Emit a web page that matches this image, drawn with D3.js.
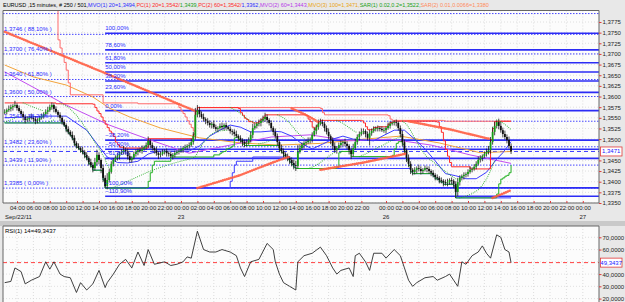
<!DOCTYPE html>
<html>
<head>
<meta charset="utf-8">
<title>EURUSD 15 minutes</title>
<script src="https://cdn.jsdelivr.net/npm/d3@7"></script>
<style>
  html, body { margin: 0; padding: 0; background: #e9e9e9; }
  svg { display: block; font-family: "Liberation Sans", Arial, sans-serif; }
</style>
</head>
<body>
<svg id="chart" width="625" height="302"></svg>
<script>
(function() {
    'use strict';

    // trading sessions shown on the time axis (weekend removed)
    var sessions = [["2011-09-22 02:30", "2011-09-23 22:45"], ["2011-09-25 22:00", "2011-09-27 01:45"]];

    // 15 minute candles: closes, plus wick lengths in pips
    var firstOpen = 1.3562;
    var closes = [
        1.3564, 1.3568, 1.3571, 1.3575, 1.3578, 1.3580, 1.3573, 1.3566, 1.3559, 1.3552,
        1.3545, 1.3547, 1.3552, 1.3550, 1.3547, 1.3543, 1.3545, 1.3550, 1.3554, 1.3559,
        1.3564, 1.3568, 1.3575, 1.3580, 1.3571, 1.3564, 1.3557, 1.3550, 1.3540, 1.3533,
        1.3524, 1.3517, 1.3510, 1.3503, 1.3491, 1.3484, 1.3479, 1.3474, 1.3470, 1.3463,
        1.3456, 1.3446, 1.3439, 1.3432, 1.3446, 1.3463, 1.3451, 1.3432, 1.3409, 1.3390,
        1.3404, 1.3423, 1.3442, 1.3451, 1.3456, 1.3460, 1.3467, 1.3470, 1.3474, 1.3472,
        1.3460, 1.3451, 1.3456, 1.3465, 1.3470, 1.3474, 1.3472, 1.3477, 1.3481, 1.3486,
        1.3496, 1.3486, 1.3479, 1.3474, 1.3467, 1.3463, 1.3465, 1.3470, 1.3472, 1.3467,
        1.3465, 1.3460, 1.3463, 1.3467, 1.3470, 1.3472, 1.3474, 1.3479, 1.3481, 1.3484,
        1.3486, 1.3493, 1.3507, 1.3557, 1.3568, 1.3559, 1.3552, 1.3547, 1.3543, 1.3538,
        1.3533, 1.3536, 1.3528, 1.3524, 1.3526, 1.3531, 1.3528, 1.3533, 1.3528, 1.3524,
        1.3519, 1.3517, 1.3512, 1.3507, 1.3503, 1.3498, 1.3493, 1.3489, 1.3491, 1.3498,
        1.3510, 1.3526, 1.3531, 1.3536, 1.3538, 1.3543, 1.3547, 1.3552, 1.3545, 1.3538,
        1.3526, 1.3517, 1.3507, 1.3493, 1.3479, 1.3472, 1.3465, 1.3460, 1.3456, 1.3451,
        1.3444, 1.3439, 1.3437, 1.3470, 1.3479, 1.3486, 1.3491, 1.3493, 1.3496, 1.3498,
        1.3510, 1.3519, 1.3528, 1.3536, 1.3540, 1.3536, 1.3526, 1.3517, 1.3507, 1.3498,
        1.3484, 1.3474, 1.3479, 1.3486, 1.3491, 1.3493, 1.3489, 1.3484, 1.3474, 1.3465,
        1.3479, 1.3493, 1.3505, 1.3512, 1.3517, 1.3519, 1.3512, 1.3503,
        1.3514, 1.3519, 1.3524, 1.3526, 1.3526, 1.3524, 1.3521, 1.3521, 1.3526, 1.3531, 1.3536, 1.3538,
        1.3540, 1.3538, 1.3526, 1.3512, 1.3493, 1.3474, 1.3456, 1.3442, 1.3428, 1.3423,
        1.3428, 1.3432, 1.3430, 1.3425, 1.3428, 1.3432, 1.3430, 1.3425, 1.3421, 1.3416,
        1.3411, 1.3409, 1.3404, 1.3402, 1.3399, 1.3397, 1.3399, 1.3404, 1.3402, 1.3395,
        1.3376, 1.3399, 1.3409, 1.3413, 1.3416, 1.3418, 1.3423, 1.3428, 1.3430, 1.3435,
        1.3442, 1.3451, 1.3456, 1.3460, 1.3465, 1.3470, 1.3474, 1.3493, 1.3517, 1.3531,
        1.3540, 1.3531, 1.3521, 1.3512, 1.3505, 1.3498, 1.3484, 1.3471
    ];
    var wickHiPips = [
        6,4,8,6,4,10,4,6,4,6, 4,6,4,8,4,6,4,4,6,4, 6,8,6,6,4,6,4,6,4,6, 4,6,4,8,6,4,6,4,8,4,
        6,4,8,6,10,12,6,4,8,6, 16,8,6,4,6,8,4,6,10,6, 6,8,4,6,6,4,6,8,4,6, 10,4,6,4,8,4,6,6,4,6,
        4,6,4,6,4,6,6,4,6,4, 6,8,10,16,12,8,6,8,4,6, 6,4,8,6,4,6,8,4,6,4, 6,4,6,8,4,6,4,6,8,6,
        8,10,6,4,8,6,8,10,6,4, 6,4,8,6,4,8,6,4,6,4, 6,8,10,16,8,6,4,6,8,6, 6,8,6,10,8,6,4,6,8,4,
        6,8,4,6,6,4,8,6,4,6, 10,8,6,6,8,6,4,6, 8,6,6,4,6,4,6,6,4,8,6,4,
        4,6,4,6,8,6,4,8,6,4, 6,4,8,6,4,6,4,6,4,6, 4,6,4,6,4,6,8,4,6,4, 6,10,6,4,6,4,6,8,4,6,
        6,8,6,4,6,8,10,12,12,10, 4,8,10,6,8,6,8,6
    ];
    var wickLoPips = [
        4,6,4,6,8,4,6,4,6,8, 8,4,6,4,6,8,6,4,4,6, 4,6,4,6,8,4,6,8,6,4, 8,6,4,6,8,6,4,6,6,8,
        6,8,6,10,6,8,10,12,10,5, 8,6,4,6,4,6,8,4,6,8, 8,6,6,4,6,8,4,6,4,6, 6,8,6,8,6,10,6,4,6,8,
        6,4,8,6,4,6,4,6,4,6, 6,4,6,8,6,8,4,6,8,6, 6,8,4,6,8,4,6,8,6,4, 6,8,6,4,8,6,10,8,6,4,
        6,8,4,6,6,8,4,6,8,6, 6,8,6,8,10,6,8,6,8,10, 8,10,12,6,4,6,8,6,4,6, 6,4,8,6,4,6,8,6,8,10,
        8,6,8,4,6,8,6,8,10,12, 6,4,6,8,4,6,8,6, 18,6,4,6,8,6,4,6,8,4,6,4,
        6,8,6,8,10,8,10,8,10,8, 6,8,6,8,6,4,8,6,8,6, 8,6,8,6,10,6,8,6,8,10, 14,10,8,6,8,6,6,4,6,4,
        6,4,6,8,4,6,6,8,6,8, 6,8,6,8,6,8,6,6
    ];

    // indicators, as [bar, value]
    var mvo1 = [[0,1.3550],[10,1.3552],[20,1.3554],[30,1.3554],[40,1.3521],[45,1.3489],[50,1.3458],[55,1.3445],
        [60,1.3444],[65,1.3448],[70,1.3465],[75,1.3472],[80,1.3472],[90,1.3472],[95,1.3484],[100,1.3507],
        [105,1.3521],[110,1.3533],[115,1.3528],[120,1.3517],[125,1.3517],[130,1.3519],[135,1.3517],[140,1.3507],
        [145,1.3489],[150,1.3477],[155,1.3488],[160,1.3500],[165,1.3507],[170,1.3500],[175,1.3498],[180,1.3496],
        [185,1.3509],[190,1.3521],[195,1.3521],[200,1.3500],[205,1.3477],[210,1.3449],[215,1.3419],[220,1.3414],
        [225,1.3407],[230,1.3407],[235,1.3422],[240,1.3453],[243,1.3468],[247,1.3494]];
    var mvo2 = [[0,1.3658],[30,1.3580],[51,1.3533],[71,1.3498],[90,1.3467],[110,1.3486],[130,1.3505],
        [149,1.3510],[168,1.3496],[188,1.3500],[208,1.3486],[227,1.3463],[247,1.3443]];
    var mvo3 = [[0,1.3674],[14,1.3646],[30,1.3627],[43,1.3599],[51,1.3573],[61,1.3552],[76,1.3526],[95,1.3503],
        [115,1.3491],[134,1.3486],[154,1.3490],[173,1.3499],[193,1.3507],[212,1.3491],[232,1.3468],[247,1.3471]];

    var pc1Hi = [[0,1.3585],[25,1.3583],[43,1.3582],[44,1.3574],[45,1.3566],[46,1.3560],[47,1.3552],[48,1.3543],
        [49,1.3535],[50,1.3527],[51,1.3519],[52,1.3514],[53,1.3506],[54,1.3493],[55,1.3487],[56,1.3481],[58,1.3479],
        [70,1.3501],[92,1.3512],[93,1.3565],[94,1.3574],[114,1.3572],[115,1.3562],[116,1.3556],[117,1.3549],
        [118,1.3546],[119,1.3541],[121,1.3538],[124,1.3542],[125,1.3546],[126,1.3551],[127,1.3557],[147,1.3555],
        [148,1.3547],[149,1.3541],[150,1.3528],[151,1.3523],[152,1.3531],[153,1.3541],[154,1.3544],[174,1.3543],
        [175,1.3538],[176,1.3529],[177,1.3522],[180,1.3527],[182,1.3529],[187,1.3535],[188,1.3539],[189,1.3540],
        [190,1.3542],[210,1.3541],[211,1.3540],[212,1.3529],[213,1.3516],[214,1.3496],[215,1.3476],[216,1.3460],
        [217,1.3445],[218,1.3435],[227,1.3430],[237,1.3499],[238,1.3525],[239,1.3541],[240,1.3542],[247,1.3542]];
    var pc1Lo = [[0,1.3538],[29,1.3531],[30,1.3520],[31,1.3514],[32,1.3508],[33,1.3500],[34,1.3487],[35,1.3481],
        [36,1.3477],[37,1.3471],[38,1.3467],[39,1.3459],[40,1.3453],[41,1.3442],[42,1.3436],[43,1.3427],[47,1.3426],
        [48,1.3404],[49,1.3385],[69,1.3386],[70,1.3401],[71,1.3421],[72,1.3439],[73,1.3448],[81,1.3458],[102,1.3463],
        [105,1.3467],[106,1.3470],[107,1.3471],[108,1.3477],[109,1.3478],[110,1.3481],[111,1.3484],[112,1.3503],
        [113,1.3505],[114,1.3499],[115,1.3495],[116,1.3488],[117,1.3485],[134,1.3474],[135,1.3469],[136,1.3461],
        [137,1.3457],[138,1.3452],[139,1.3446],[140,1.3440],[141,1.3434],[142,1.3431],[162,1.3434],[163,1.3468],
        [164,1.3471],[169,1.3459],[189,1.3462],[190,1.3477],[191,1.3490],[192,1.3494],[194,1.3488],[195,1.3470],
        [196,1.3451],[197,1.3438],[198,1.3423],[199,1.3419],[209,1.3413],[210,1.3407],[211,1.3406],[212,1.3400],
        [213,1.3399],[214,1.3394],[219,1.3390],[220,1.3362],[240,1.3371],[241,1.3395],[242,1.3406],[243,1.3409],
        [244,1.3413],[245,1.3415],[246,1.3421],[247,1.3439]];
    var pc2Hi = [[0,1.3850],[25,1.3850],[26,1.3733],[27,1.3714],[28,1.3697],[29,1.3680],[30,1.3662],[31,1.3632],
        [32,1.3604],[48,1.3585],[65,1.3583],[84,1.3582],[85,1.3574],[86,1.3566],[87,1.3560],[88,1.3552],[89,1.3543],
        [90,1.3535],[91,1.3527],[92,1.3519],[93,1.3565],[94,1.3574],[154,1.3572],[155,1.3562],[156,1.3557],
        [187,1.3555],[188,1.3547],[189,1.3544],[214,1.3543],[215,1.3542],[247,1.3542]];
    var pc2Lo = [[0,1.3538],[29,1.3531],[30,1.3520],[31,1.3514],[32,1.3508],[33,1.3500],[34,1.3487],[35,1.3481],
        [36,1.3477],[37,1.3471],[38,1.3467],[39,1.3459],[40,1.3453],[41,1.3442],[42,1.3436],[43,1.3427],[47,1.3426],
        [48,1.3404],[49,1.3385],[109,1.3386],[110,1.3401],[111,1.3421],[112,1.3439],[113,1.3448],[121,1.3458],
        [139,1.3446],[140,1.3440],[141,1.3434],[142,1.3431],[198,1.3423],[199,1.3419],[209,1.3413],[210,1.3407],
        [211,1.3406],[212,1.3400],[213,1.3399],[214,1.3394],[219,1.3390],[220,1.3362],[247,1.3362]];

    // parabolic SAR runs, one list per side of the price
    var sar1 = [
        [[0,1.3540],[3,1.3545],[6,1.3552]],
        [[9,1.3585],[14,1.3575],[19,1.3566]],
        [[21,1.3539],[24,1.3545]],
        [[27,1.3585],[31,1.3575],[35,1.3556],[39,1.3530],[43,1.3500],[46,1.3478],[49,1.3452],[50,1.3440],[51,1.3432]],
        [[52,1.3385],[56,1.3392],[60,1.3401],[65,1.3412],[70,1.3423],[75,1.3432],[80,1.3440],[85,1.3447],[90,1.3453],
         [92,1.3456],[93,1.3460],[94,1.3468],[96,1.3485],[98,1.3498],[100,1.3508],[102,1.3515],[104,1.3519],[109,1.3521]],
        [[110,1.3574],[113,1.3567],[116,1.3556],[119,1.3545],[122,1.3538],[123,1.3536]],
        [[124,1.3489],[127,1.3492],[130,1.3497],[132,1.3500]],
        [[133,1.3557],[136,1.3550],[139,1.3538],[142,1.3520],[145,1.3505],[147,1.3498]],
        [[148,1.3431],[151,1.3436],[154,1.3445],[157,1.3456],[160,1.3466],[161,1.3469]],
        [[162,1.3544],[165,1.3537],[168,1.3527],[170,1.3520],[172,1.3515]],
        [[173,1.3459],[176,1.3465],[179,1.3472],[182,1.3480],[185,1.3487],[188,1.3495],[190,1.3500],[193,1.3505]],
        [[194,1.3542],[196,1.3535],[198,1.3520],[200,1.3502],[202,1.3485],[204,1.3470],[206,1.3458],[208,1.3450],
         [210,1.3443],[212,1.3435],[214,1.3428],[216,1.3420],[218,1.3413],[220,1.3407],[221,1.3404]],
        [[222,1.3362],[225,1.3366],[228,1.3372],[231,1.3381],[233,1.3392],[235,1.3406],[237,1.3425],[239,1.3450]],
        [[240,1.3545],[243,1.3538],[245,1.3531],[247,1.3522]]
    ];
    var sar2 = [
        [[0,1.3752],[47,1.3659],[93,1.3566]],
        [[94,1.3385],[114,1.3414],[134,1.3451],[139,1.3459]],
        [[140,1.3572],[147,1.3557],[153,1.3540]],
        [[154,1.3428],[175,1.3445],[196,1.3466]],
        [[197,1.3542],[217,1.3523],[237,1.3500]],
        [[238,1.3362],[247,1.3380]]
    ];

    var rsi = [[0,33],[3,34],[5,45],[8,42],[10,32],[13,35],[17,38],[20,50],[22,44],[24,50],[27,40],[29,38],[32,37],
        [35,25],[37,33],[40,27],[43,32],[46,43],[49,29],[50,33],[53,40],[56,48],[59,52],[62,45],[65,58],[68,47],
        [70,60],[73,48],[78,50],[81,47],[84,48],[87,50],[89,54],[91,53],[94,75],[97,60],[100,58],[103,58],[106,60],
        [110,58],[113,55],[115,45],[117,38],[120,50],[124,52],[128,65],[131,60],[132,50],[134,40],[136,33],[139,30],
        [142,27],[143,50],[146,55],[150,57],[154,62],[157,55],[160,45],[162,40],[164,43],[168,45],[170,38],[171,55],
        [173,57],[176,50],[178,43],[180,57],[184,57],[186,53],[190,60],[193,55],[195,45],[197,35],[199,30],[201,33],
        [205,37],[209,38],[211,35],[215,38],[217,40],[219,35],[221,30],[223,50],[225,48],[228,55],[231,58],[233,63],
        [235,57],[237,53],[240,72],[242,70],[244,60],[246,58],[247,49.3437]];

    // fibonacci sets
    var fibLeftPrices = [1.37948, 1.3746, 1.3700, 1.3640, 1.3600, 1.3542, 1.3482, 1.3439, 1.3385];
    var fibLeftPct = ["100,00", "88,10", "76,40", "61,80", "50,00", "38,20", "23,60", "11,90", "0,00"];
    var fibRightLevels = [100, 78.6, 61.8, 50, 38.2, 23.6, 0, -38.2, -50, -61.8, -100, -110.9];
    var fibRightLow = 1.35670, fibRightHigh = 1.37485, fibRightStartBar = 49;

    var lastPrice = 1.3471, lastRsi = 49.3437;
    var priceTicks = d3.range(0, 18).map(function(k) { return 1.3350 + k * 0.0025; });
    var rsiTicks = [20, 30, 40, 50, 60, 70];

    var headerParts = ["EURUSD ,15 minutes, # 250 / 501, ", "MVO(1) 20=1,3494, ", "PC(1) 20=1,3542/", "1,3439, ",
        "PC(2) 60=1,3542/", "1,3362, ", "MVO(2) 60=1,3443, ", "MVO(3) 100=1,3471, ", "SAR(1) 0.02,0.2=1,3522, ",
        "SAR(2) 0.01,0.0066=1,3380"];
    var headerColors = ["#000", "#2a2aff", "#ff2a2a", "#16a016", "#ff2a2a", "#2a2aff", "#b73ae8", "#e8a412", "#16a016", "#ff8a5a"];

    // ---- layout ----
    var svg = d3.select("#chart");
    var plotL = 3, plotR = 599, plotT = 10.5, plotB = 203;
    var rsiT = 226, rsiB = 302;

    var parse = d3.timeParse("%Y-%m-%d %H:%M");
    var times = [];
    sessions.forEach(function(s) {
        times = times.concat(d3.timeMinute.every(15).range(parse(s[0]), d3.timeMinute.offset(parse(s[1]), 1)));
    });

    var x = d3.scaleLinear().domain([0, 290]).range([4.7, 4.7 + 290 * 2.05]);
    var y = d3.scaleLinear().domain([1.3350, 1.3775]).range([203, 22]);
    var yr = d3.scaleLinear().domain([20, 70]).range([298.6, 237.3]);

    var locale = d3.formatLocale({decimal: ",", thousands: ".", grouping: [3], currency: ["", ""]});
    var fmt4 = locale.format(".4f"), fmt2 = locale.format(".2f");

    svg.append("rect").attr("width", 625).attr("height", 302).attr("fill", "#e8e8e8");
    svg.append("rect").attr("x", plotL).attr("y", plotT).attr("width", plotR - plotL).attr("height", plotB - plotT).attr("fill", "#fcfcfc");
    svg.append("rect").attr("x", plotL).attr("y", rsiT).attr("width", plotR - plotL).attr("height", rsiB - rsiT).attr("fill", "#fcfcfc");
    svg.append("rect").attr("x", 0).attr("y", 221).attr("width", 625).attr("height", 5).attr("fill", "#c9c9c9");

    var defs = svg.append("defs");
    defs.append("clipPath").attr("id", "clipMain").append("rect")
        .attr("x", plotL).attr("y", plotT).attr("width", plotR - plotL).attr("height", plotB - plotT);
    defs.append("clipPath").attr("id", "clipRsi").append("rect")
        .attr("x", plotL).attr("y", rsiT).attr("width", plotR - plotL).attr("height", rsiB - rsiT);

    // time ticks every even hour, dropping ones that would crowd the previous
    var tickIdx = [];
    times.forEach(function(t, i) {
        if (t.getMinutes() === 0 && t.getHours() % 2 === 0 && x(i) < plotR - 4) {
            if (!tickIdx.length || x(i) - x(tickIdx[tickIdx.length - 1]) > 12) tickIdx.push(i);
        }
    });

    var main = svg.append("g").attr("clip-path", "url(#clipMain)");
    var lower = svg.append("g").attr("clip-path", "url(#clipRsi)");

    // grid
    [main, lower].forEach(function(g, k) {
        g.selectAll(".vgrid").data(tickIdx).enter().append("line")
            .attr("x1", function(i) { return x(i); }).attr("x2", function(i) { return x(i); })
            .attr("y1", k ? rsiT : plotT).attr("y2", k ? rsiB : plotB)
            .attr("stroke", "#d4d4d4").attr("stroke-width", 0.8).attr("stroke-dasharray", "1 2");
    });
    main.selectAll(".hgrid").data(priceTicks).enter().append("line")
        .attr("x1", plotL).attr("x2", plotR).attr("y1", function(p) { return y(p); }).attr("y2", function(p) { return y(p); })
        .attr("stroke", "#d8d8d8").attr("stroke-width", 0.8).attr("stroke-dasharray", "1 2");
    lower.selectAll(".hgrid").data(rsiTicks).enter().append("line")
        .attr("x1", plotL).attr("x2", plotR).attr("y1", function(v) { return yr(v); }).attr("y2", function(v) { return yr(v); })
        .attr("stroke", "#d8d8d8").attr("stroke-width", 0.8).attr("stroke-dasharray", "1 2");

    // fibonacci lines
    main.selectAll(".fibL").data(fibLeftPrices).enter().append("line")
        .attr("x1", plotL).attr("x2", plotR).attr("y1", function(p) { return y(p); }).attr("y2", function(p) { return y(p); })
        .attr("stroke", "#4646ff").attr("stroke-width", 1).attr("stroke-dasharray", "1.5 1.5");
    var fibRightPrice = function(l) { return fibRightLow + l / 100 * (fibRightHigh - fibRightLow); };
    main.selectAll(".fibR").data(fibRightLevels).enter().append("line")
        .attr("x1", x(fibRightStartBar)).attr("x2", plotR)
        .attr("y1", function(l) { return y(fibRightPrice(l)); }).attr("y2", function(l) { return y(fibRightPrice(l)); })
        .attr("stroke", "#2c2cf5").attr("stroke-width", 1.6);
    main.append("line").attr("x1", plotL).attr("x2", plotR).attr("y1", y(lastPrice)).attr("y2", y(lastPrice))
        .attr("stroke", "#3a3aff").attr("stroke-width", 1).attr("stroke-dasharray", "4 3");

    // moving averages and price channels
    var line = d3.line().x(function(d) { return x(d[0]); }).y(function(d) { return y(d[1]); });
    var step = d3.line().x(function(d) { return x(d[0]); }).y(function(d) { return y(d[1]); }).curve(d3.curveStepAfter);
    function path(g, gen, data, color, w) {
        return g.append("path").attr("d", gen(data)).attr("fill", "none").attr("stroke", color).attr("stroke-width", w);
    }
    path(main, line, mvo3, "#f2a33a", 1);
    path(main, line, mvo2, "#c24cf0", 1);
    path(main, line, mvo1, "#3c3cff", 1);
    path(main, step, pc2Hi, "#ff6a6a", 1);
    path(main, step, pc1Hi, "#ff2a2a", 1);
    path(main, step, pc2Lo, "#3c3cff", 1);
    path(main, step, pc1Lo, "#22b022", 1);

    // candles
    var bars = closes.map(function(c, i) {
        var o = i ? closes[i - 1] : firstOpen;
        return {i: i, o: o, c: c,
            h: Math.max(o, c) + wickHiPips[i] / 1e4,
            l: Math.min(o, c) - wickLoPips[i] / 1e4};
    });
    var candle = main.selectAll(".candle").data(bars).enter().append("g");
    candle.append("line")
        .attr("x1", function(d) { return x(d.i); }).attr("x2", function(d) { return x(d.i); })
        .attr("y1", function(d) { return y(d.h); }).attr("y2", function(d) { return y(d.l); })
        .attr("stroke", "#1a1a1a").attr("stroke-width", 0.8);
    candle.append("rect")
        .attr("x", function(d) { return x(d.i) - 0.9; }).attr("width", 1.8)
        .attr("y", function(d) { return y(Math.max(d.o, d.c)); })
        .attr("height", function(d) { return Math.max(0.7, Math.abs(y(d.o) - y(d.c))); })
        .attr("fill", function(d) { return d.c >= d.o ? "#14a014" : "#111"; });

    // SAR dots: zero length dashes with round caps
    sar2.forEach(function(seg) {
        path(main, line, seg, "#ff5c40", 2.6).attr("stroke-linecap", "round").attr("stroke-dasharray", "0 2.05").attr("opacity", 0.9);
    });
    sar1.forEach(function(seg) {
        path(main, line, seg, "#1eaa1e", 1).attr("stroke-linecap", "round").attr("stroke-dasharray", "0 2.05");
    });

    // fibonacci labels
    var fibText = svg.append("g").attr("font-size", 6).attr("fill", "#2a2aff");
    fibLeftPrices.forEach(function(p, k) {
        if (y(p) < 20) return;
        fibText.append("text").attr("x", 4).attr("y", y(p) - 3).text(fmt4(p) + " ( " + fibLeftPct[k] + "% )");
    });
    fibRightLevels.forEach(function(l) {
        fibText.append("text").attr("x", x(fibRightStartBar)).attr("y", y(fibRightPrice(l)) - 3).text(fmt2(l) + "%");
    });

    // RSI
    var rsiLine = d3.line().x(function(d) { return x(d[0]); }).y(function(d) { return yr(d[1]); });
    lower.append("line").attr("x1", plotL).attr("x2", plotR).attr("y1", yr(lastRsi)).attr("y2", yr(lastRsi))
        .attr("stroke", "#ff4040").attr("stroke-width", 1).attr("stroke-dasharray", "4 3");
    path(lower, rsiLine, rsi, "#2b2b2b", 0.9);
    svg.append("text").attr("x", 5).attr("y", 232.5).attr("font-size", 6).attr("fill", "#000")
        .text("RSI(1) 14=" + fmt4(lastRsi));

    // frames
    var frame = svg.append("g").attr("stroke", "#666").attr("stroke-width", 1).attr("fill", "none");
    frame.append("path").attr("d", "M" + plotL + "," + plotB + "V" + plotT + "H" + plotR + "V" + plotB + "H" + plotL);
    frame.append("path").attr("d", "M" + plotL + "," + rsiB + "V" + rsiT + "H" + plotR + "V" + rsiB);

    // right axes; the label hidden under a value box is left out
    function styleAxis(g) {
        g.attr("font-size", 6).attr("font-family", null);
        g.select(".domain").remove();
        g.selectAll(".tick line").attr("stroke", "#e03a3a");
        g.selectAll(".tick text").attr("fill", "#222");
    }
    function clearOf(scale, v) {
        return function(t) { return Math.abs(scale(t) - scale(v)) > 6; };
    }
    svg.append("g").attr("transform", "translate(" + plotR + ",0)")
        .call(d3.axisRight(y).tickValues(priceTicks.filter(clearOf(y, lastPrice))).tickSize(2.5).tickPadding(1).tickFormat(fmt4))
        .call(styleAxis);
    svg.append("g").attr("transform", "translate(" + plotR + ",0)")
        .call(d3.axisRight(yr).tickValues(rsiTicks.filter(clearOf(yr, lastRsi))).tickSize(2.5).tickPadding(1).tickFormat(fmt4))
        .call(styleAxis);

    function valueBox(yy, label) {
        svg.append("rect").attr("x", 600.5).attr("y", yy - 4.5).attr("width", 21.5).attr("height", 9)
            .attr("fill", "#fff").attr("stroke", "#e03a3a").attr("stroke-width", 0.8);
        svg.append("text").attr("x", 611.2).attr("y", yy + 2).attr("text-anchor", "middle")
            .attr("font-size", 6).attr("fill", "#2020ff").text(label);
    }
    valueBox(y(lastPrice), fmt4(lastPrice));
    valueBox(yr(lastRsi), fmt4(lastRsi));

    // time axis
    var xg = svg.append("g").attr("transform", "translate(0," + plotB + ")")
        .call(d3.axisBottom(x).tickValues(tickIdx).tickSize(-2).tickPadding(3)
            .tickFormat(function(i) { return d3.timeFormat("%H:%M")(times[i]); }));
    xg.attr("font-size", 6).attr("font-family", null);
    xg.select(".domain").remove();
    xg.selectAll(".tick line").attr("stroke", "#e03a3a");
    xg.selectAll(".tick text").attr("fill", "#222");

    var dates = svg.append("g").attr("font-size", 6).attr("fill", "#222");
    dates.append("text").attr("x", 5).attr("y", 218.5).text(d3.timeFormat("%b/%d/%y")(times[0]));
    tickIdx.forEach(function(i) {
        if (times[i].getHours() === 0) {
            dates.append("text").attr("x", x(i)).attr("y", 218.5).attr("text-anchor", "middle")
                .text(d3.timeFormat("%d")(times[i]));
        }
    });

    // header line: one text per colour, laid end to end and sized to span 487px
    var head = svg.append("g").style("white-space", "pre");
    var pieces = headerParts.map(function(t, k) {
        return head.append("text").attr("y", 7).attr("font-size", 6).attr("fill", headerColors[k]).text(t);
    });
    var total = d3.sum(pieces, function(p) { return p.node().getComputedTextLength(); });
    var fs = 6 * 487 / total, hx = 3;
    pieces.forEach(function(p) {
        p.attr("font-size", fs).attr("x", hx);
        hx += p.node().getComputedTextLength();
    });
}());
</script>
</body>
</html>
